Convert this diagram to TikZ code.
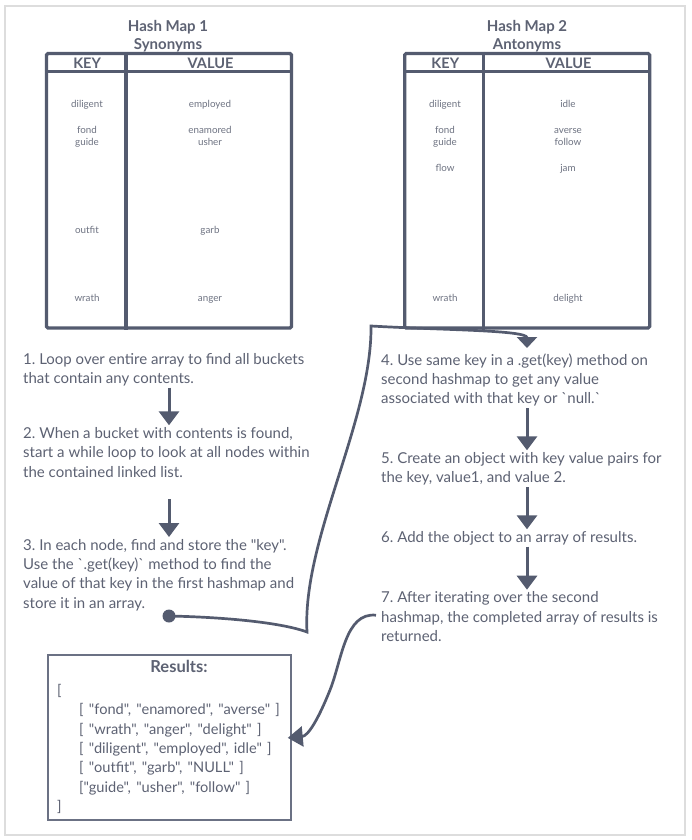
\documentclass[tikz,border=0pt]{standalone}
\usepackage{fontspec}
\newfontfamily\lato{Lato}
\usetikzlibrary{arrows.meta}
\definecolor{linec}{HTML}{545B6F}
\definecolor{textc}{HTML}{5D6273}
\definecolor{cellc}{HTML}{6E7382}
\definecolor{framec}{HTML}{DDDDDD}
\definecolor{boxc}{HTML}{6B7184}
\newcommand\firstl{\rule{0pt}{12pt}}
\newcommand\lastl{\rule[-4pt]{0pt}{4pt}}
\newcommand\widesp{\spaceskip=5.3pt\relax}
\frenchspacing
\begin{document}
\frenchspacing
\begin{tikzpicture}[x=1pt,y=-1pt,
  tbl/.style={draw=linec, line width=3.3pt, rounded corners=1.5pt, minimum width=245pt, minimum height=274.5pt, inner sep=0pt},
  tline/.style={draw=linec, line width=3.3pt},
  title/.style={font=\lato\bfseries\fontsize{15}{18}\selectfont, text=textc, align=center, anchor=north, inner sep=0pt},
  head/.style={font=\lato\bfseries\fontsize{14.5}{16}\selectfont, text=textc, anchor=base, inner sep=0pt},
  cell/.style={font=\lato\fontsize{9.8}{12}\selectfont, text=cellc, anchor=base, inner sep=0pt},
  stepnode/.style={font=\lato\fontsize{15}{19.3}\selectfont\frenchspacing, text=textc, align=left, anchor=north west, inner sep=0pt},
  flow/.style={draw=linec, line width=3pt, -{Triangle[width=20pt,length=14pt]}, shorten >=1pt},
  conn/.style={draw=linec, line width=2.7pt, line cap=round},
]
\useasboundingbox (0,0) rectangle (691,840);
\fill[white] (0,0) rectangle (691,840);
\draw[framec, line width=1.5pt] (5,6) rectangle (685,835);

\coordinate (colL) at (169,0);
\coordinate (colR) at (527,0);

% ---- Hash map 1
\node[title] (h1) at (168,19.5) {\firstl Hash Map 1\\Synonyms};
\node[tbl] (t1) at (169,190.75) {};
\draw[tline] ([yshift=-20pt]t1.north west) -- ([yshift=-20pt]t1.north east);
\draw[tline] ([xshift=81.2pt]t1.north west) -- ([xshift=81.2pt]t1.south west);
\node[head] (k1h) at (87.1,68.3) {KEY};
\node[head] (v1h) at (210.5,68.3) {VALUE};
\node[cell] (k1a) at (87,108) {diligent};
\node[cell] (v1a) at (210,108) {employed};
\node[cell] (k1b) at (87,133) {fond};
\node[cell] (v1b) at (210,133) {enamored};
\node[cell] (k1c) at (87,145) {guide};
\node[cell] (v1c) at (210,145) {usher};
\node[cell] (k1d) at (87,233) {outfit};
\node[cell] (v1d) at (210,233) {garb};
\node[cell] (k1e) at (87,301) {wrath};
\node[cell] (v1e) at (210,301) {anger};

% ---- Hash map 2
\node[title] (h2) at (527,19.5) {\firstl Hash Map 2\\Antonyms};
\node[tbl] (t2) at (527.15,190.75) {};
\draw[tline] ([yshift=-20pt]t2.north west) -- ([yshift=-20pt]t2.north east);
\draw[tline] ([xshift=80.7pt]t2.north west) -- ([xshift=80.7pt]t2.south west);
\node[head] (k2h) at (445.3,68.3) {KEY};
\node[head] (v2h) at (568.5,68.3) {VALUE};
\node[cell] (k2a) at (445,108) {diligent};
\node[cell] (v2a) at (568,108) {idle};
\node[cell] (k2b) at (445,133) {fond};
\node[cell] (v2b) at (568,133) {averse};
\node[cell] (k2c) at (445,145) {guide};
\node[cell] (v2c) at (568,145) {follow};
\node[cell] (k2f) at (445,171) {flow};
\node[cell] (v2f) at (568,171) {jam};
\node[cell] (k2e) at (445,301) {wrath};
\node[cell] (v2e) at (568,301) {delight};

% ---- Steps
\node[stepnode] (s1) at (23,352) {\firstl 1. Loop over entire array to find all buckets\\that contain any contents.\lastl};
\node[stepnode] (s2) at (23,426.3) {\firstl 2. When a bucket with contents is found,\\start a while loop to look at all nodes within\\the contained linked list.\lastl};
\node[stepnode] (s3) at (23,538) {\firstl 3. In each node, find and store the "key".\\Use the `.get(key)` method to find the\\value of that key in the first hashmap and\\store it in an array.\lastl};
\node[stepnode] (s4) at (381,353) {\firstl 4. Use same key in a .get(key) method on\\second hashmap to get any value\\associated with that key or `null.`\lastl};
\node[stepnode] (s5) at (381,451.3) {\firstl 5. Create an object with key value pairs for\\the key, value1, and value 2.\lastl};
\node[stepnode] (s6) at (381,530.3) {\firstl 6. Add the object to an array of results.\lastl};
\node[stepnode] (s7) at (381,590.7) {\firstl 7. After iterating over the second\\hashmap, the completed array of results is\\returned.\lastl};

\draw[flow] (s1.south -| colL) -- (s2.north -| colL);
\draw[flow, shorten <=18pt] (s2.south -| colL) -- (s3.north -| colL);
\draw[flow] (s4.south -| colR) -- (s5.north -| colR);
\draw[flow] (s5.south -| colR) -- (s6.north -| colR);
\draw[flow] (s6.south -| colR) -- (s7.north -| colR);

% ---- Connector from step 3 to step 4
\node[circle, fill=linec, inner sep=0pt, minimum size=13pt] (dot) at (169,616) {};
\draw[conn, -{Triangle[width=20pt,length=11pt]}, line cap=butt, shorten >=5pt]
  (dot.center) .. controls (220,617) and (280,622) .. (307,632)
  .. controls (302,540) and (372,420) .. (371,326)
  .. controls (440,330) and (527,330) .. (s4.north -| colR);

% ---- Results
\node[draw=boxc, line width=1.5pt, minimum width=243pt, minimum height=165pt, inner sep=0pt] (res) at (169.5,737.5) {};
\node[font=\lato\bfseries\fontsize{16.5}{19}\selectfont, text=textc, anchor=base, inner sep=0pt] (rtitle) at (179,672.7) {Results:};
\node[stepnode, font=\lato\fontsize{14.6}{19.4}\selectfont\widesp] (rlist) at (57,683) {\firstl [\\
\hspace*{22pt}[ "fond", "enamored", "averse" ]\\
\hspace*{22pt}[ "wrath", "anger", "delight" ]\\
\hspace*{22pt}[ "diligent", "employed", idle" ]\\
\hspace*{22pt}[ "outfit", "garb", "NULL" ]\\
\hspace*{22pt}["guide", "usher", "follow" ]\\
]};

\draw[conn, -{Triangle[width=20pt,length=15pt]}, line cap=butt, shorten >=-4pt]
  ([xshift=-5pt,yshift=3pt]s7.west) .. controls (345,612) and (342,660) .. (330,690)
  .. controls (318,720) and (308,736) .. (res.east);
\end{tikzpicture}
\end{document}
